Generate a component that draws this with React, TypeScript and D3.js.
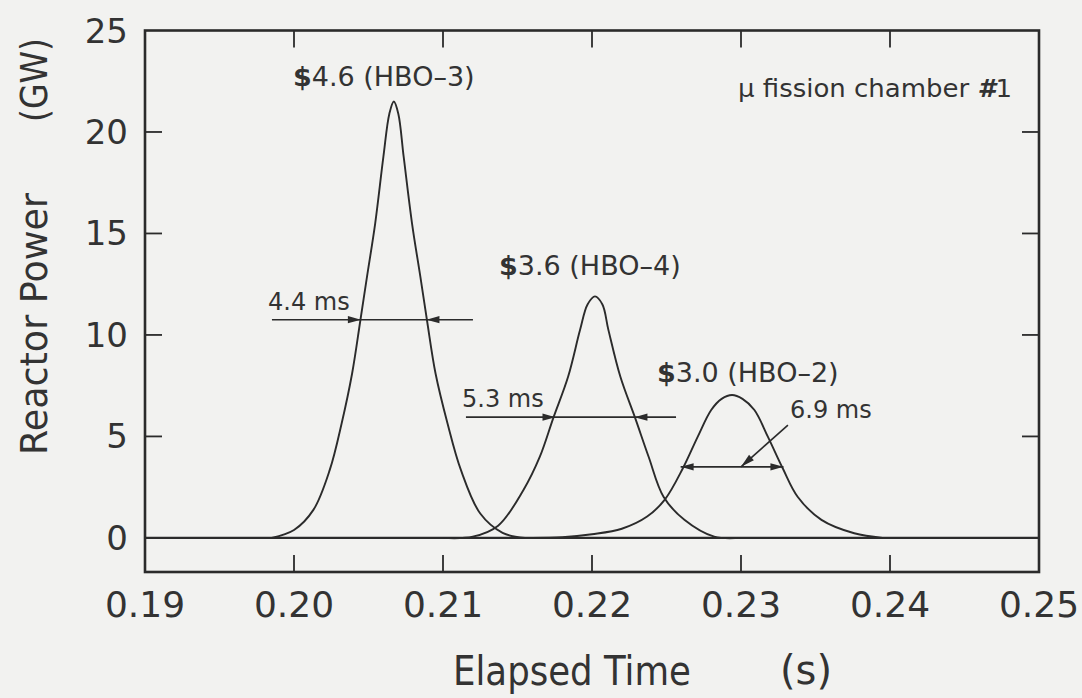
import React from 'react';
import * as d3 from 'd3';

const W = 1082;
const H = 698;

// Axis ticks
const xTickValues = [0.19, 0.2, 0.21, 0.22, 0.23, 0.24, 0.25];
const xTickLabels = ['0.19', '0.20', '0.21', '0.22', '0.23', '0.24', '0.25'];
const yTickValues = [0, 5, 10, 15, 20, 25];
const yTickLabels = ['0', '5', '10', '15', '20', '25'];

// Zero-power level recorded before and after the pulses
const baselineTime = [0.19, 0.25];
const baselinePower = [0, 0];

// Power pulses: elapsed time (s) and reactor power (GW)
const hbo3Time = [0.1985, 0.2, 0.2013, 0.2024, 0.2032, 0.2039, 0.20445, 0.2049, 0.20545, 0.206, 0.2064, 0.2067, 0.207, 0.20736, 0.20792, 0.20848, 0.20893, 0.2095, 0.2103, 0.2112, 0.2125, 0.214, 0.2155];
const hbo3Power = [0, 0.39, 1.38, 3.35, 5.65, 8.1, 10.7, 12.87, 15.5, 18.78, 20.9, 21.5, 20.9, 18.78, 15.5, 12.87, 10.7, 8.1, 5.65, 3.35, 1.2, 0.25, 0];

const hbo4Time = [0.21, 0.212, 0.2137, 0.2154, 0.2165, 0.2174, 0.2184, 0.2192, 0.2197, 0.2202, 0.2207, 0.2211, 0.2219, 0.2229, 0.2238, 0.2248, 0.2262, 0.2282, 0.23];
const hbo4Power = [0, 0.06, 0.6, 2.36, 4.0, 5.9, 7.95, 10.25, 11.5, 11.9, 11.5, 10.25, 7.95, 5.9, 4.0, 2.03, 0.89, 0.06, 0];

const hbo2Time = [0.216, 0.218, 0.22, 0.222, 0.2237, 0.2249, 0.2261, 0.2271, 0.228, 0.2287, 0.2294, 0.2301, 0.2309, 0.2318, 0.2328, 0.2338, 0.2354, 0.2376, 0.2395];
const hbo2Power = [0, 0.03, 0.18, 0.45, 1.05, 1.9, 3.43, 4.99, 6.3, 6.85, 7.04, 6.85, 6.3, 4.99, 3.43, 2.03, 0.89, 0.23, 0];

// Reactivity insertion labels per pulse
const pulseNames = ['HBO–3', 'HBO–4', 'HBO–2'];
const pulseReactivity = ['4.6', '3.6', '3.0'];

// Full width at half maximum of each pulse (ms)
const fwhmValues = [4.4, 5.3, 6.9];
const fwhmPeakTimes = [0.20669, 0.2202, 0.2294];
const fwhmLevels = [10.75, 5.95, 3.5];

const Y_FLOOR = -1.68;
const FONT = '"DejaVu Sans", sans-serif';
const INK = '#2b2b2b';
const TEXT = '#333333';

function arrowHead(tx: number, ty: number, angle: number, len = 13, half = 3.6) {
  const ux = Math.cos(angle);
  const uy = Math.sin(angle);
  const bx = tx - len * ux;
  const by = ty - len * uy;
  const px = -uy * half;
  const py = ux * half;
  return `M${tx},${ty}L${bx + px},${by + py}L${bx - px},${by - py}Z`;
}

export default function App() {
  const x = d3.scaleLinear().domain([0.19, 0.25]).range([145, 1039]);
  const y = d3.scaleLinear().domain([Y_FLOOR, 25]).range([572, 30.5]);

  const pulseLine = d3
    .line<[number, number]>()
    .x((d) => x(d[0]))
    .y((d) => y(d[1]))
    .curve(d3.curveCatmullRom.alpha(0.5));
  const flatLine = d3
    .line<[number, number]>()
    .x((d) => x(d[0]))
    .y((d) => y(d[1]));

  const series = [
    { time: hbo3Time, power: hbo3Power },
    { time: hbo4Time, power: hbo4Power },
    { time: hbo2Time, power: hbo2Power },
  ];

  // Placement of the annotations in data units
  const peakLabelAt: [number, number][] = [
    [0.19993, 22.26],
    [0.21376, 12.95],
    [0.22436, 7.68],
  ];
  const widthLineSpan: ([number, number] | null)[] = [
    [0.19852, 0.21201],
    [0.21154, 0.22564],
    null,
  ];
  const widthLabelAt: [number, number][] = [
    [0.19826, 11.23],
    [0.21128, 6.45],
    [0.23329, 5.91],
  ];
  const leaderFrom: [number, number] = [0.23315, 5.56];
  const leaderTo: [number, number] = [0.23, 3.5];

  const x0 = x(0.19);
  const x1 = x(0.25);
  const yTop = y(25);
  const yBot = y(Y_FLOOR);
  const tick = 17;

  return (
    <svg
      width={W}
      height={H}
      viewBox={`0 0 ${W} ${H}`}
      style={{ position: 'absolute', left: 0, top: 0, display: 'block' }}
      fontFamily={FONT}
    >
      <rect x={0} y={0} width={W} height={H} fill="#f2f2f0" />

      {/* frame */}
      <rect x={x0} y={yTop} width={x1 - x0} height={yBot - yTop} fill="none" stroke={INK} strokeWidth={2.6} />

      {/* x ticks, top and bottom */}
      {xTickValues.slice(1, -1).map((v) => (
        <g key={`xt${v}`} stroke={INK} strokeWidth={1.8}>
          <line x1={x(v)} x2={x(v)} y1={yBot} y2={yBot - tick} />
          <line x1={x(v)} x2={x(v)} y1={yTop} y2={yTop + tick} />
        </g>
      ))}
      {/* y ticks, left and right */}
      {yTickValues.slice(1, -1).map((v) => (
        <g key={`yt${v}`} stroke={INK} strokeWidth={1.8}>
          <line x1={x0} x2={x0 + tick} y1={y(v)} y2={y(v)} />
          <line x1={x1} x2={x1 - tick} y1={y(v)} y2={y(v)} />
        </g>
      ))}

      {/* tick labels */}
      {xTickValues.map((v, i) => (
        <text key={`xl${v}`} x={x(v)} y={yBot + 45} textAnchor="middle" fontSize={36} fill={TEXT}>
          {xTickLabels[i]}
        </text>
      ))}
      {yTickValues.map((v, i) => (
        <text key={`yl${v}`} x={x0 - 17} y={y(v)} textAnchor="end" dominantBaseline="central" fontSize={34} fill={TEXT}>
          {yTickLabels[i]}
        </text>
      ))}

      {/* axis titles */}
      <text x={453} y={685} fontSize={40} fill={TEXT} textLength={238} lengthAdjust="spacingAndGlyphs">
        Elapsed Time
      </text>
      <text x={780} y={684} fontSize={40} fill={TEXT}>
        (s)
      </text>
      <text transform="translate(47,324) rotate(-90)" textAnchor="middle" fontSize={38} fill={TEXT} textLength={262} lengthAdjust="spacingAndGlyphs">
        Reactor Power
      </text>
      <text transform="translate(47,80) rotate(-90)" textAnchor="middle" fontSize={38} fill={TEXT} textLength={84} lengthAdjust="spacingAndGlyphs">
        (GW)
      </text>

      {/* zero level and pulses */}
      <path
        d={flatLine(baselineTime.map((t, j) => [t, baselinePower[j]] as [number, number])) || ''}
        fill="none"
        stroke={INK}
        strokeWidth={2.2}
      />
      {series.map((s, i) => (
        <path
          key={`p${i}`}
          d={pulseLine(s.time.map((t, j) => [t, s.power[j]] as [number, number])) || ''}
          fill="none"
          stroke={INK}
          strokeWidth={1.9}
        />
      ))}

      {/* pulse labels */}
      {pulseNames.map((n, i) => (
        <text key={`pl${n}`} x={x(peakLabelAt[i][0])} y={y(peakLabelAt[i][1])} fontSize={27} fill={TEXT}>
          <tspan fontWeight="bold">$</tspan>
          {`${pulseReactivity[i]} (${n})`}
        </text>
      ))}

      <text x={x(0.2298)} y={y(21.72)} fontSize={24} fill={TEXT} textLength={274} lengthAdjust="spacingAndGlyphs">
        μ fission chamber <tspan fontWeight="bold" fontStyle="italic">#</tspan>1
      </text>

      {/* pulse widths */}
      {fwhmValues.map((w, i) => {
        const half = w / 2000;
        const tl = fwhmPeakTimes[i] - half;
        const tr = fwhmPeakTimes[i] + half;
        const yy = y(fwhmLevels[i]);
        const span = widthLineSpan[i];
        const inward = span !== null;
        const a = span ? x(span[0]) : x(tl);
        const b = span ? x(span[1]) : x(tr);
        return (
          <g key={`w${i}`}>
            <line x1={a} x2={b} y1={yy} y2={yy} stroke={INK} strokeWidth={1.6} />
            <path d={arrowHead(x(tl), yy, inward ? 0 : Math.PI)} fill={INK} />
            <path d={arrowHead(x(tr), yy, inward ? Math.PI : 0)} fill={INK} />
            <text x={x(widthLabelAt[i][0])} y={y(widthLabelAt[i][1])} fontSize={24} fill={TEXT}>
              {`${w.toFixed(1)} ms`}
            </text>
          </g>
        );
      })}

      {/* leader from the 6.9 ms label */}
      {(() => {
        const fx = x(leaderFrom[0]);
        const fy = y(leaderFrom[1]);
        const tx = x(leaderTo[0]);
        const ty = y(leaderTo[1]);
        const ang = Math.atan2(ty - fy, tx - fx);
        return (
          <g>
            <line x1={fx} y1={fy} x2={tx} y2={ty} stroke={INK} strokeWidth={1.6} />
            <path d={arrowHead(tx, ty, ang, 14, 3.6)} fill={INK} />
          </g>
        );
      })()}
    </svg>
  );
}
